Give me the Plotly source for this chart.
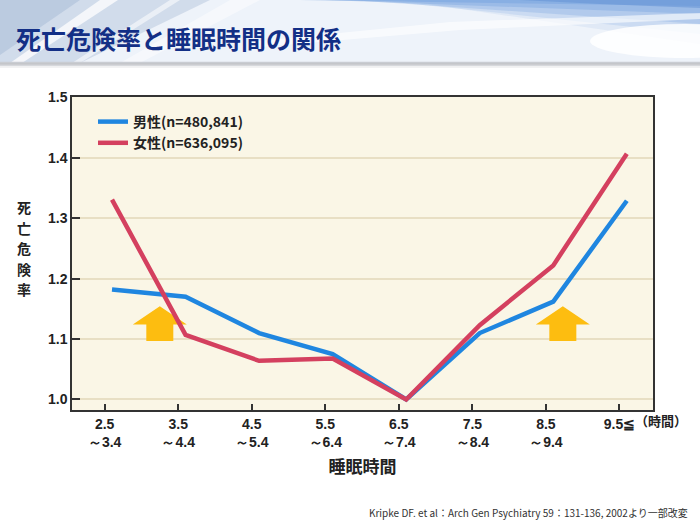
import plotly.graph_objects as go

# ---------------- data ----------------
categories = ["2.5<br>～3.4", "3.5<br>～4.4", "4.5<br>～5.4", "5.5<br>～6.4",
              "6.5<br>～7.4", "7.5<br>～8.4", "8.5<br>～9.4", "9.5≦"]
male = [1.182, 1.170, 1.110, 1.075, 1.000, 1.110, 1.162, 1.329]
female = [1.331, 1.107, 1.064, 1.068, 1.000, 1.123, 1.222, 1.407]
male_name = "男性(n=480,841)"
female_name = "女性(n=636,095)"
y_ticks = [1.0, 1.1, 1.2, 1.3, 1.4, 1.5]
y_title_chars = ["死", "亡", "危", "険", "率"]
arrow_pos = [0.65, 6.13]          # category positions of the highlight arrows
arrow_y = (1.0967, 1.124, 1.1545)  # bottom, head base, tip (hazard ratio units)

BLUE = "#1f86e0"
RED = "#d4405f"
GOLD = "#fdbd10"

# ---------------- geometry helpers (page pixels -> paper) ----------------
WIDTH, HEIGHT = 700, 525
L, R, T, B = 72, 653, 97, 410
PW, PH = R - L, B - T


def px(x):
    return (x - L) / PW


def py(y):
    return (B - y) / PH


xs = list(range(len(categories)))

fig = go.Figure()
fig.add_trace(go.Scatter(x=xs, y=male, mode="lines", name=f"<b>{male_name}</b>",
                         line=dict(color=BLUE, width=4.5)))
fig.add_trace(go.Scatter(x=xs, y=female, mode="lines", name=f"<b>{female_name}</b>",
                         line=dict(color=RED, width=4.5)))

shapes = []


def pshape(path, fill, opacity=1.0):
    return dict(type="path", xref="paper", yref="paper", path=path,
                fillcolor=fill, opacity=opacity, layer="below",
                line=dict(width=0))


def ppath(points):
    return "M " + " L ".join(f"{px(a):.4f},{py(b):.4f}" for a, b in points) + " Z"


# ---- header decoration ----
shapes.append(dict(type="rect", xref="paper", yref="paper", x0=px(0), x1=px(700),
                   y0=py(63), y1=py(0), fillcolor="#eef3fa", line=dict(width=0),
                   layer="below"))
for i, (yy, op) in enumerate([(6, 0.55), (14, 0.40), (24, 0.30), (34, 0.20), (44, 0.12)]):
    shapes.append(pshape(ppath([(300 + i * 25, 0), (700, 0), (700, yy)]), "#7aa6e0", op))
shapes.append(pshape(ppath([(520, 0), (700, 0), (700, 8), (600, 4)]), "#5f8fd4", 0.5))
shapes.append(pshape(ppath([(0, 0), (210, 0), (80, 63), (0, 63)]), "#b9c8de", 0.55))
shapes.append(pshape(ppath([(0, 0), (80, 0), (0, 55)]), "#a6b9d6", 0.5))
shapes.append(pshape(ppath([(100, 0), (118, 0), (22, 63), (10, 63)]), "#ffffff", 0.75))
shapes.append(pshape(ppath([(170, 0), (180, 0), (80, 63), (72, 63)]), "#ffffff", 0.55))
shapes.append(pshape(ppath([(230, 0), (260, 0), (140, 63), (120, 63)]), "#ffffff", 0.45))
shapes.append(dict(type="circle", xref="paper", yref="paper",
                   x0=px(590), x1=px(780), y0=py(58), y1=py(24),
                   fillcolor="#ffffff", opacity=0.85, line=dict(width=0), layer="below"))
shapes.append(pshape(ppath([(250, 42), (450, 22), (700, 13), (700, 19), (460, 30), (260, 47)]),
                     "#ffffff", 0.6))
for yy, col in [(62.5, "#c9ccd2"), (64, "#b4b7bd"), (65.5, "#d6d8dc"), (67, "#eeeeef")]:
    shapes.append(dict(type="line", xref="paper", yref="paper", x0=px(0), x1=px(700),
                       y0=py(yy), y1=py(yy), line=dict(color=col, width=1.6),
                       layer="below"))

# ---- arrows (in data coordinates) ----
head_half, shaft_half = 0.367, 0.1835
y0a, yha, yta = arrow_y
for cx in arrow_pos:
    pts = [(cx - shaft_half, y0a), (cx + shaft_half, y0a), (cx + shaft_half, yha),
           (cx + head_half, yha), (cx, yta), (cx - head_half, yha), (cx - shaft_half, yha)]
    path = "M " + " L ".join(f"{a:.4f},{b:.4f}" for a, b in pts) + " Z"
    shapes.append(dict(type="path", xref="x", yref="y", path=path, fillcolor=GOLD,
                       line=dict(width=0), layer="between"))

annotations = [
    dict(text="<b>死亡危険率と睡眠時間の関係</b>", xref="paper", yref="paper",
         x=px(14), y=py(38), xanchor="left", yanchor="middle", showarrow=False,
         font=dict(family="Noto Sans CJK JP", size=25, color="#132f86")),
    dict(text="<b>（時間）</b>", xref="paper", yref="paper",
         x=px(633), y=py(420), xanchor="left", yanchor="middle", showarrow=False,
         font=dict(family="Noto Sans CJK JP", size=13, color="#222222")),
    dict(text="Kripke DF. et al：Arch Gen Psychiatry 59：131-136, 2002より一部改変",
         xref="paper", yref="paper", x=px(690), y=py(512), xanchor="right",
         yanchor="middle", showarrow=False,
         font=dict(family="Liberation Sans Narrow, Noto Sans CJK JP", size=10, color="#333333")),
]
for k, ch in enumerate(y_title_chars):
    annotations.append(dict(text=f"<b>{ch}</b>", xref="paper", yref="paper",
                            x=px(24), y=py(207 + 20.5 * k), xanchor="center",
                            yanchor="middle", showarrow=False,
                            font=dict(family="Noto Sans CJK JP", size=14, color="#222222")))

fig.update_layout(
    width=WIDTH, height=HEIGHT,
    margin=dict(l=L, r=WIDTH - R, t=T, b=HEIGHT - B),
    paper_bgcolor="#ffffff", plot_bgcolor="#faf6e6",
    shapes=shapes, annotations=annotations,
    showlegend=True,
    legend=dict(x=px(93), y=py(106), xanchor="left", yanchor="top",
                bgcolor="rgba(0,0,0,0)", tracegroupgap=0,
                font=dict(family="Noto Sans CJK JP", size=14, color="#222222")),
    font=dict(family="Liberation Sans, Arial", color="#222222"),
)

fig.update_xaxes(
    range=[-0.544, 7.356], tickmode="array", tickvals=[v - 0.1 for v in xs],
    ticktext=[f"<b>{c}</b>" for c in categories],
    ticks="inside", ticklen=6, tickwidth=1.5, tickcolor="#333333",
    showline=True, mirror=True, linecolor="#333333", linewidth=1.5,
    showgrid=False, zeroline=False,
    tickfont=dict(family="Liberation Sans Narrow, Liberation Sans, Arial", size=14, color="#222222"),
    title=dict(text="<b>睡眠時間</b>", standoff=12,
               font=dict(family="Noto Sans CJK JP", size=17, color="#222222")),
)
fig.update_yaxes(
    range=[0.9826, 1.5008], tickmode="array", tickvals=y_ticks,
    ticktext=[f"<b>{v:.1f}</b>" for v in y_ticks],
    ticks="inside", ticklen=8, tickwidth=1.5, tickcolor="#333333",
    showline=True, mirror=True, linecolor="#333333", linewidth=1.5,
    showgrid=True, gridcolor="#e8dfc4", gridwidth=1.5, zeroline=False,
    tickfont=dict(family="Liberation Sans Narrow, Liberation Sans, Arial", size=14, color="#222222"),
)

fig.write_html("out.html", config={"displayModeBar": False},
               post_script="document.body.style.margin='0';document.body.style.overflow='hidden';")
